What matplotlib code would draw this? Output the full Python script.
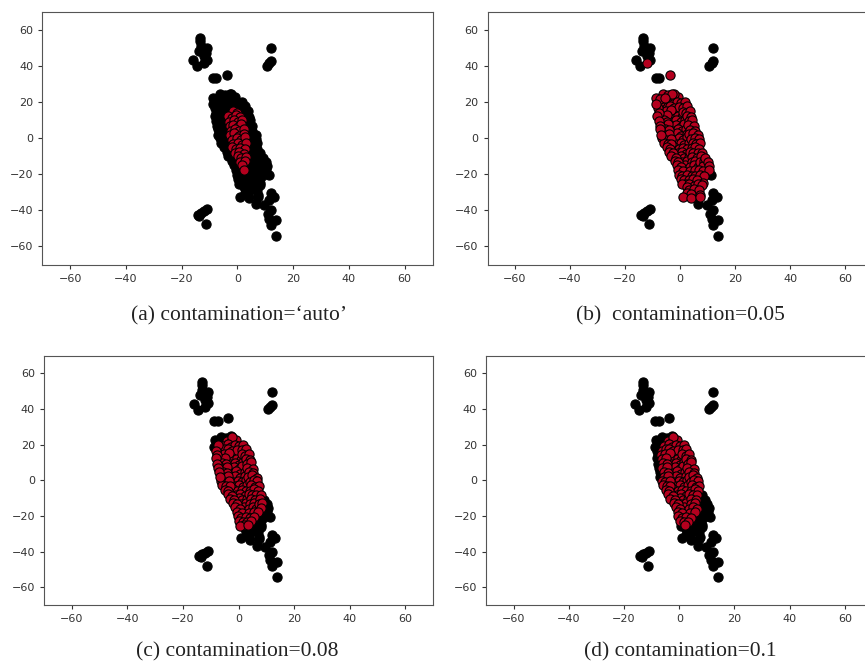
import matplotlib.pyplot as plt

# Points, grouped by how "outlying" they look.
# level 0: red in every panel (core)
core_x = [-1.7, -0.3,
          -3.4, -1.8, -0.6, 0.8,
          -3.1, -1.3, 0.3, 1.7,
          -2.7, -1.6, 0.2, 1.3,
          -2.3, -0.8, 0.7, 2.2,
          -2.6, -1.2, 0.4, 2.4,
          -1.8, -0.2, 1.2, 2.7,
          -1.4, 0.3, 1.6, 3.2,
          -2.1, -0.4, 1.1, 2.6,
          -0.8, 0.7, 2.3,
          0.2, 1.4, 3.1,
          0.8, 2.6,
          1.8,
          2.4]
core_y = [15.2, 13.8,
          12.4, 11.3, 12.8, 11.6,
          9.1, 9.9, 8.7, 10.2,
          6.6, 7.4, 6.2, 7.8,
          4.1, 5.0, 3.8, 4.9,
          1.6, 2.5, 1.2, 2.2,
          -0.9, -0.1, -1.0, 0.3,
          -3.4, -2.6, -3.8, -2.7,
          -5.1, -6.0, -5.4, -6.2,
          -8.4, -7.6, -8.8,
          -10.1, -11.0, -10.6,
          -13.4, -12.6,
          -15.1,
          -17.6]

# level 1: black only for contamination='auto'
ring_x = [-4.2, -2.7, -0.8,
          -2.3,
          -5.6, -3.8, -2.6, -1.2, 0.3, 1.7,
          -6.4, -4.8, -3.6, -2.2, -0.4, 1.2, 2.6,
          -6.7, -5.1, -3.4, 1.1, 2.3, 3.7,
          -6.3, -4.9, 2.6, 4.1,
          -5.8, -4.6, 3.2, 4.4,
          -6.1, -4.3, 2.9, 5.2,
          -5.4, -4.1, 3.6, 5.3,
          -5.7, -3.9, 3.4, 4.8, 6.6,
          -6.4, -5.2, -3.3, 4.1, 5.4, 6.8,
          -5.8, -4.4, -3.2, 4.6, 5.9, 7.2,
          -4.8, -3.6, 4.2, 5.6, 6.9,
          -3.9, -2.4, 3.7, 4.9, 6.4,
          -3.2, -1.6, 4.4, 6.1,
          -1.8, -0.6, 4.2, 5.6,
          -1.1, 0.4, 3.6, 5.1, 6.4,
          -0.6, 1.1, 3.8, 5.6,
          -0.3, 0.9, 2.6, 4.2,
          0.2, 1.6, 3.1,
          2.1]
ring_y = [22.3, 21.6, 22.8,
          24.3,
          19.1, 20.2, 18.8, 19.7, 19.2, 20.1,
          16.6, 17.4, 17.8, 16.4, 17.2, 16.8, 17.5,
          14.2, 14.9, 15.3, 14.6, 13.9, 14.8,
          11.7, 12.5, 12.2, 11.6,
          9.8, 9.0, 9.3, 10.1,
          6.8, 7.5, 7.2, 6.6,
          4.9, 4.2, 4.7, 4.0,
          1.7, 2.4, 2.0, 2.8, 1.5,
          -0.2, -0.9, -0.4, -0.8, 0.1, -0.6,
          -2.7, -3.4, -3.1, -2.6, -3.5, -2.9,
          -5.2, -6.1, -5.7, -5.0, -5.9,
          -7.8, -8.5, -7.6, -8.3, -8.1,
          -10.2, -10.9, -10.4, -11.1,
          -12.7, -13.5, -13.2, -12.6,
          -15.2, -15.9, -15.8, -15.1, -16.0,
          -17.7, -18.4, -18.2, -17.8,
          -20.2, -20.9, -20.6, -21.2,
          -22.7, -23.4, -23.1,
          -25.2]

# level 2: black for 'auto' and 0.1
edge_x = [-7.2, -8.1, -7.8, -8.2, -7.6, -7.4, -7.1, -6.8,
          8.1, 7.6, 7.2, 8.6, 8.2, 6.9, 5.6, 4.6, 0.6, 3.4]
edge_y = [19.8, 16.7, 14.1, 12.3, 9.4, 6.8, 4.8, 1.8,
          -8.3, -10.2, -13.4, -12.8, -15.6, -17.7, -20.8, -22.8, -25.7, -25.3]

# level 3: red only for contamination=0.05
fringe_x = [-6.2, -4.4, -2.8,
            -8.6, -7.1, -5.4,
            -8.7,
            9.2, 10.1, 10.6, 8.4, 10.4, 7.2, 8.7, 6.1, 8.2, 5.0, 6.6, 8.1,
            2.4, 3.2, 5.1, 7.0, 2.6, 3.9, 7.4, 1.0, 4.1, 7.3,
            -12.1, -3.6]
fringe_y = [24.4, 23.8, 24.6,
            22.4, 21.7, 22.1,
            18.9,
            -11.1, -13.1, -15.4, -18.3, -17.9, -20.4, -21.3, -23.2, -24.9, -26.8, -25.6, -26.1,
            -27.1, -28.5, -28.2, -29.0, -30.6, -30.8, -31.6, -32.6, -33.4, -32.8,
            41.4, 35]

# level 4: black in every panel
outlier_x = [-13.3, -13.3, -13.1, -10.9, -13.7, -11.3, -11.9, -16.1, -14.6, -10.9,
             12.1, 11.5, 12.1, 10.7,
             -8.8, -7.5,
             -14.2, -13.2, -12, -11, -13.6, -11.3,
             11.2, 12.1, 13.3, 11.5, 9.7, 6.7, 12.1, 10.9, 11.5, 13.9, 12.1, 13.9]
outlier_y = [55.4, 53.5, 50.7, 49.8, 48, 47, 45.2, 42.9, 39.6, 43.3,
             49.8, 41.4, 42.4, 40,
             33, 33,
             -42.5, -41.5, -40.5, -39.5, -43, -47.8,
             -20.5, -30.7, -32.6, -34.4, -37.2, -36.7, -40, -41.9, -44.6, -45.6, -48.3, -54.4]

captions = ["(a) contamination=\u2018auto\u2019", "(b)  contamination=0.05",
            "(c) contamination=0.08", "(d) contamination=0.1"]
# lowest level that is drawn black in each panel
black_from = [1, 4, 3, 2]

W, H = 865, 665
RED = "#b4001e"

# axes boxes in pixels: left, top, right, bottom
boxes = [(42.3, 11.5, 432.5, 264.5), (487.5, 11.5, 872.5, 264.5),
         (44, 355.5, 433, 605.2), (486, 355.5, 872.5, 605.2)]
caption_pos = [(239, 316), (680, 316), (237, 652), (680, 652)]

groups = [(core_x, core_y), (ring_x, ring_y), (edge_x, edge_y),
          (fringe_x, fringe_y), (outlier_x, outlier_y)]

fig = plt.figure(figsize=(W / 100, H / 100), dpi=100)

for i, (l, t, r, b) in enumerate(boxes):
    ax = fig.add_axes([l / W, 1 - b / H, (r - l) / W, (b - t) / H])
    bx, by, rx, ry = [], [], [], []
    for level, (gx, gy) in enumerate(groups):
        if level >= black_from[i]:
            bx += gx
            by += gy
        else:
            rx += gx
            ry += gy
    ax.scatter(bx, by, s=44, c="black", edgecolors="black", linewidths=0.8)
    ax.scatter(rx, ry, s=44, c=RED, edgecolors="black", linewidths=0.8)
    ax.set_xlim(-70, 70)
    ax.set_ylim(-70, 70)
    ax.set_xticks([-60, -40, -20, 0, 20, 40, 60])
    ax.set_yticks([-60, -40, -20, 0, 20, 40, 60])
    ax.tick_params(labelsize=8, colors="#333333", length=3)
    for sp in ax.spines.values():
        sp.set_color("#555555")

    cx, cy = caption_pos[i]
    fig.text(cx / W, 1 - cy / H, captions[i], ha="center", va="center",
             family="Liberation Serif", fontsize=15.5, color="#222222")

fig.savefig("out.png", dpi=100)
